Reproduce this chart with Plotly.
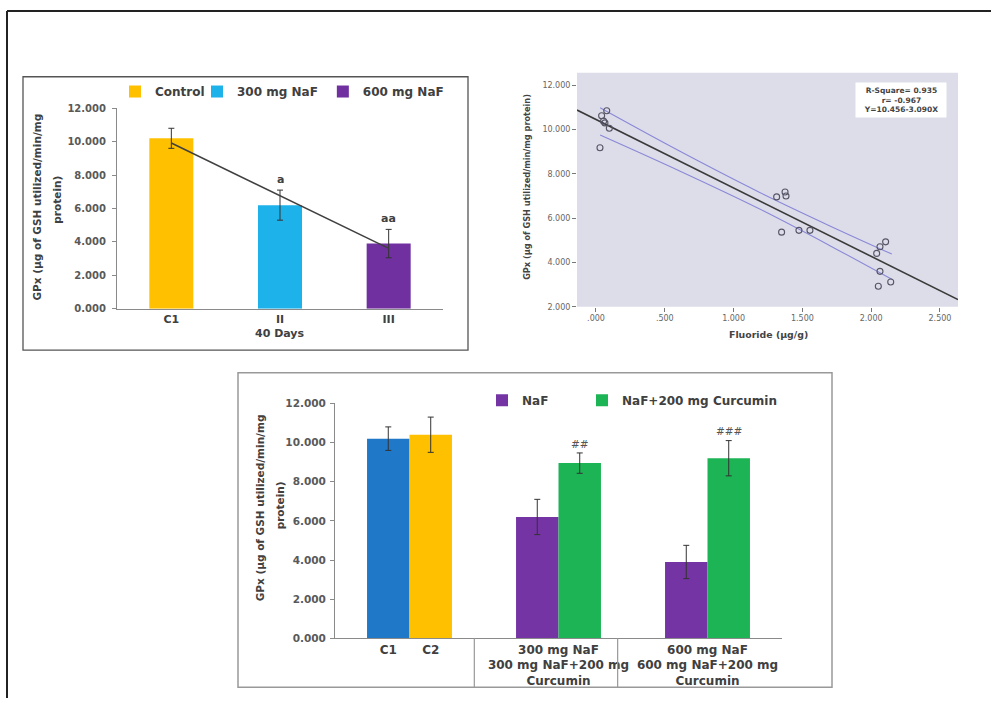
import plotly.graph_objects as go

# ---------------- data ----------------
# Panel 1 (top-left): GPx after 40 days
p1_categories = ["C1", "II", "III"]
p1_series = ["Control", "300 mg NaF", "600 mg NaF"]
p1_values = [10.2, 6.2, 3.9]
p1_errors = [0.6, 0.9, 0.85]
p1_marks = ["", "a", "aa"]

# Panel 2 (top-right): GPx vs fluoride scatter with regression
fluoride = [0.041, 0.078, 0.065, 0.055, 0.097, 0.029,
            1.313, 1.374, 1.381, 1.349, 1.475, 1.555,
            2.105, 2.064, 2.040, 2.064, 2.142, 2.052]
gpx = [10.62, 10.85, 10.30, 10.38, 10.06, 9.18,
       6.96, 7.18, 7.00, 5.37, 5.45, 5.45,
       4.93, 4.71, 4.41, 3.60, 3.12, 2.93]
reg_intercept = 10.456
reg_slope = -3.090
reg_text = ["R-Square= 0.935", "r= -0.967", "Y=10.456-3.090X"]
ci_x = [0.03, 0.60, 1.19, 1.70, 2.15]
ci_upper = [10.98, 9.05, 7.16, 5.65, 4.38]
ci_lower = [9.75, 8.15, 6.41, 4.76, 3.24]
p2_xticks = [0.0, 0.5, 1.0, 1.5, 2.0, 2.5]
p2_xticktext = [".000", ".500", "1.000", "1.500", "2.000", "2.500"]
p2_yticks = [2, 4, 6, 8, 10, 12]

# Panel 3 (bottom): curcumin co-treatment
ctrl_labels = ["C1", "C2"]
ctrl_values = [10.2, 10.4]
ctrl_errors = [0.6, 0.9]
groups = ["300 mg NaF<br>300 mg NaF+200 mg<br>Curcumin",
          "600 mg NaF<br>600 mg NaF+200 mg<br>Curcumin"]
naf_values = [6.2, 3.9]
naf_errors = [0.9, 0.85]
cur_values = [8.95, 9.2]
cur_errors = [0.52, 0.9]
cur_marks = ["##", "###"]

ytitle_lines = ["GPx (µg of GSH utilized/min/mg", "protein)"]

# ---------------- styling helpers ----------------
W, H = 991, 704
def fx(px):
    return px / W
def fy(py):
    return 1 - py / H

FONT = "DejaVu Sans"
TXT = "#404040"
AX = "#8a8a8a"
ERR = dict(type="data", color="#333333", thickness=1, width=3)

fig = go.Figure()

# ---------------- panel 1 ----------------
p1_colors = ["#FFC000", "#1EB2EA", "#7030A0"]
p1_legw = [37, None, None]
bw1 = 0.405
for i, (name, val, err, col) in enumerate(zip(p1_series, p1_values, p1_errors, p1_colors)):
    fig.add_trace(go.Bar(
        x=[i], y=[val], name=name, width=[bw1], offset=-bw1 / 2,
        marker=dict(color=col, line=dict(width=0)),
        error_y=dict(ERR, array=[err]), legendwidth=p1_legw[i],
        xaxis="x", yaxis="y", legend="legend"))

# linear trendline of the three means (as in the original spreadsheet chart)
n = len(p1_values)
xs = list(range(n))
mx = sum(xs) / n
my = sum(p1_values) / n
slope = sum((a - mx) * (b - my) for a, b in zip(xs, p1_values)) / sum((a - mx) ** 2 for a in xs)
icpt = my - slope * mx
fig.add_trace(go.Scatter(
    x=[xs[0], xs[-1]], y=[icpt + slope * xs[0], icpt + slope * xs[-1]],
    mode="lines", line=dict(color="#404040", width=1.5), showlegend=False,
    hoverinfo="skip", xaxis="x", yaxis="y"))

# ---------------- panel 2 ----------------
x2_range = [-0.138, 2.631]
fig.add_trace(go.Scatter(
    x=x2_range, y=[reg_intercept + reg_slope * v for v in x2_range],
    mode="lines", line=dict(color="#3a3a3a", width=1.6), showlegend=False,
    xaxis="x2", yaxis="y2"))
fig.add_trace(go.Scatter(
    x=ci_x, y=ci_upper, mode="lines", line=dict(color="#8a88d6", width=1.1),
    line_shape="spline", showlegend=False, xaxis="x2", yaxis="y2"))
fig.add_trace(go.Scatter(
    x=ci_x, y=ci_lower, mode="lines", line=dict(color="#8a88d6", width=1.1),
    line_shape="spline", showlegend=False, xaxis="x2", yaxis="y2"))
fig.add_trace(go.Scatter(
    x=fluoride, y=gpx, mode="markers",
    marker=dict(symbol="circle-open", size=6, color="#555566", line=dict(width=1.1)),
    showlegend=False, xaxis="x2", yaxis="y2"))

# ---------------- panel 3 ----------------
bw3 = 0.285
ctrl_colors = ["#1F78C8", "#FFC000"]
for j, (lab, val, err, col) in enumerate(zip(ctrl_labels, ctrl_values, ctrl_errors, ctrl_colors)):
    fig.add_trace(go.Bar(
        x=[0], y=[val], name=lab, width=[bw3], offset=-bw3 + j * bw3,
        marker=dict(color=col, line=dict(width=0)),
        error_y=dict(ERR, array=[err]), showlegend=False,
        xaxis="x3", yaxis="y3"))
gx = [k + 1 for k in range(len(groups))]
fig.add_trace(go.Bar(
    x=gx, y=naf_values, name="NaF", width=[bw3] * len(gx), offset=-bw3,
    marker=dict(color="#7434A4", line=dict(width=0)), legendwidth=55,
    error_y=dict(ERR, array=naf_errors), xaxis="x3", yaxis="y3", legend="legend2"))
fig.add_trace(go.Bar(
    x=gx, y=cur_values, name="NaF+200 mg Curcumin", width=[bw3] * len(gx), offset=0,
    marker=dict(color="#1CB455", line=dict(width=0)),
    error_y=dict(ERR, array=cur_errors), xaxis="x3", yaxis="y3", legend="legend2"))

# ---------------- annotations ----------------
ann = []
# panel 1 significance marks
for i, (m, v, e) in enumerate(zip(p1_marks, p1_values, p1_errors)):
    if m:
        ann.append(dict(x=i, y=v + e + 0.65, xref="x", yref="y", text=m, showarrow=False,
                        font=dict(family=FONT, size=11, color=TXT, weight="bold")))
# panel 3 significance marks
for k, (m, v, e) in enumerate(zip(cur_marks, cur_values, cur_errors)):
    ann.append(dict(x=gx[k] + bw3 / 2, y=v + e + 0.47, xref="x3", yref="y3", text=m,
                    showarrow=False, font=dict(family=FONT, size=10.5, color="#555555")))
# axis titles (two lines each, placed separately for the wider line spacing)
for (lx, ly) in zip([37, 57], [205, 197]):
    pass
for line, lx, ly in zip(ytitle_lines, [37, 57], [205, 197]):
    ann.append(dict(x=fx(lx), y=fy(ly), xref="paper", yref="paper", text=line, textangle=-90,
                    showarrow=False, xanchor="center", yanchor="middle",
                    font=dict(family=FONT, size=10.5, color=TXT, weight="bold")))
for line, lx, ly in zip(ytitle_lines, [260, 280], [511, 508]):
    ann.append(dict(x=fx(lx), y=fy(ly), xref="paper", yref="paper", text=line, textangle=-90,
                    showarrow=False, xanchor="center", yanchor="middle",
                    font=dict(family=FONT, size=10.5, color=TXT, weight="bold")))
ann.append(dict(x=1, y=fy(333), xref="x", yref="paper", text="40 Days", showarrow=False,
                xanchor="center", yanchor="middle",
                font=dict(family=FONT, size=11, color=TXT, weight="bold")))
ann.append(dict(x=fx(527), y=fy(184), xref="paper", yref="paper",
                text=" ".join(ytitle_lines), textangle=-90,
                showarrow=False, xanchor="center", yanchor="middle",
                font=dict(family=FONT, size=8.2, color="#444444", weight="bold")))
ann.append(dict(x=fx(768), y=fy(334), xref="paper", yref="paper", text="Fluoride (µg/g)",
                showarrow=False, xanchor="center", yanchor="middle",
                font=dict(family=FONT, size=9.4, color="#444444", weight="bold")))
ann.append(dict(x=fx(901), y=fy(95.5), xref="paper", yref="paper", text="<br>".join(reg_text),
                showarrow=False, xanchor="center", yanchor="middle", align="center",
                width=88, height=32, bgcolor="white",
                font=dict(family=FONT, size=7.5, color="#444444", weight="bold")))

# ---------------- shapes ----------------
shapes = [
    # outer frame (left and top)
    dict(type="line", xref="paper", yref="paper", x0=fx(7), x1=fx(7), y0=fy(5), y1=0,
         line=dict(color="#222222", width=2)),
    dict(type="line", xref="paper", yref="paper", x0=fx(7), x1=1, y0=fy(5), y1=fy(5),
         line=dict(color="#222222", width=2)),
    # panel boxes
    dict(type="rect", xref="paper", yref="paper", x0=fx(23), x1=fx(468), y0=fy(350), y1=fy(72),
         line=dict(color="#555555", width=1.3)),
    dict(type="rect", xref="paper", yref="paper", x0=fx(238), x1=fx(832), y0=fy(693), y1=fy(373),
         line=dict(color="#999999", width=1.5)),
    # panel 2 plot background
    dict(type="rect", xref="x2 domain", yref="y2 domain", x0=0, x1=1, y0=0, y1=1,
         fillcolor="#DDDDEA", line=dict(width=0), layer="below"),
]
# panel 3 category separators below the axis
for sx in [0.435, 1.397]:
    shapes.append(dict(type="line", xref="x3", yref="paper", x0=sx, x1=sx,
                       y0=fy(643.3), y1=fy(693), line=dict(color="#999999", width=1.2)))

common_y = dict(range=[0, 12], dtick=2, tickformat=".3f", ticks="outside", ticklen=4,
                tickcolor=AX, showline=True, linecolor=AX, linewidth=1, showgrid=False,
                zeroline=False, tickfont=dict(family=FONT, size=10, color="#595959", weight="bold"))

fig.update_layout(
    width=W, height=H, margin=dict(l=0, r=0, t=0, b=0),
    paper_bgcolor="white", plot_bgcolor="rgba(0,0,0,0)",
    font=dict(family=FONT, color=TXT),
    barmode="overlay", showlegend=True,
    xaxis=dict(domain=[fx(117), fx(443)], anchor="y", range=[-0.5, 2.5],
               tickvals=list(range(len(p1_categories))), ticktext=p1_categories,
               ticks="", showline=True, linecolor=AX, showgrid=False, zeroline=False,
               tickfont=dict(family=FONT, size=11, color=TXT, weight="bold")),
    yaxis=dict(common_y, domain=[fy(308), fy(104)], anchor="x", ticklabelstandoff=4),
    xaxis2=dict(domain=[fx(577), fx(958)], anchor="y2", range=x2_range,
                tickvals=p2_xticks, ticktext=p2_xticktext, ticks="outside", ticklen=4,
                tickcolor="#777777", showline=False, showgrid=False, zeroline=False,
                tickfont=dict(family=FONT, size=8, color="#666666")),
    yaxis2=dict(domain=[fy(306), fy(68)], anchor="x2", range=[2.0, 12.56],
                tickvals=p2_yticks, tickformat=".3f", ticks="outside", ticklen=4,
                tickcolor="#777777", showline=False, showgrid=False, zeroline=False,
                tickfont=dict(family=FONT, size=8, color="#666666")),
    xaxis3=dict(domain=[fx(335), fx(782)], anchor="y3", range=[-0.5, 2.5],
                tickvals=[-bw3 / 2, bw3 / 2] + gx, ticktext=ctrl_labels + groups,
                ticks="", showline=True, linecolor=AX, showgrid=False, zeroline=False,
                tickfont=dict(family=FONT, size=12, color=TXT, weight="bold")),
    yaxis3=dict(common_y, domain=[fy(643.3), fy(404.3)], anchor="x3", ticklabelstandoff=2,
                tickfont=dict(family=FONT, size=10.5, color="#595959", weight="bold")),
    legend=dict(orientation="h", x=fx(115), y=fy(87), xanchor="left", yanchor="middle",
                bgcolor="rgba(0,0,0,0)", font=dict(family=FONT, size=12, color=TXT, weight="bold"),
                itemclick=False),
    legend2=dict(orientation="h", x=fx(482), y=fy(401), xanchor="left", yanchor="middle",
                 bgcolor="rgba(0,0,0,0)", font=dict(family=FONT, size=12, color=TXT, weight="bold"),
                 itemclick=False),
    annotations=ann, shapes=shapes,
)

fig.write_html(
    "out.html",
    config={"displayModeBar": False},
    post_script="document.body.style.margin='0';document.body.style.overflow='hidden';",
)
